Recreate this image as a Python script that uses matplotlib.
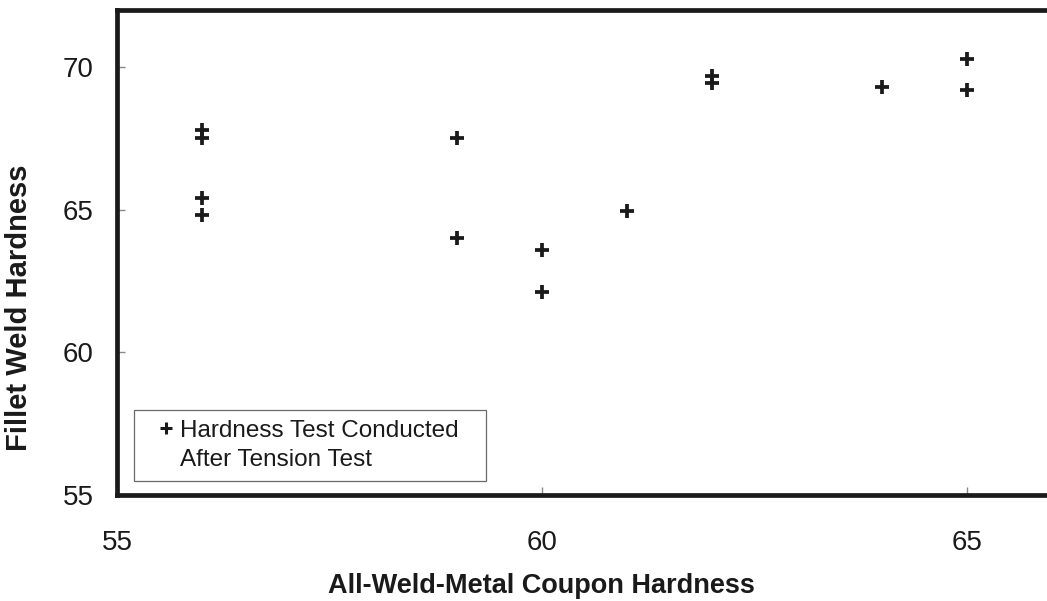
import matplotlib
matplotlib.use("Agg")
import matplotlib.pyplot as plt
from matplotlib.lines import Line2D

plt.rcParams['font.family'] = ['Liberation Sans', 'DejaVu Sans']

# All-weld-metal coupon hardness vs. fillet weld hardness
coupon_hardness = [56, 56, 56, 56, 59, 59, 60, 60, 61, 62, 62, 64, 65, 65]
fillet_hardness = [67.8, 67.5, 65.4, 64.8, 67.5, 64.0, 63.6, 62.1, 64.95,
                   69.7, 69.45, 69.3, 70.3, 69.2]

x_ticks = [55, 60, 65]
y_ticks = [55, 60, 65, 70]

ink = '#1a1a1a'

fig = plt.figure(figsize=(10.47, 6.01), dpi=100)
ax = fig.add_axes([117 / 1047, 1 - 495 / 601, 1 - 117 / 1047, 485 / 601])

ax.plot(coupon_hardness, fillet_hardness, linestyle='none', marker='+',
        markersize=10.5, markeredgewidth=2.7, color=ink, clip_on=False)

ax.set_xlim(55, 55 + 930 / 85)
ax.set_ylim(55, 72)
ax.set_xticks(x_ticks)
ax.set_yticks(y_ticks)
ax.tick_params(direction='in', length=6, width=1, color='#888888',
               labelsize=20, labelcolor=ink)
ax.tick_params(axis='x', pad=25)
ax.tick_params(axis='y', pad=17)

for side in ['left', 'bottom', 'top']:
    ax.spines[side].set_linewidth(3.4)
    ax.spines[side].set_color(ink)
ax.spines['right'].set_visible(False)

ax.set_xlabel('All-Weld-Metal Coupon Hardness', fontsize=19.5,
              fontweight='bold', color=ink)
ax.set_ylabel('Fillet Weld Hardness', fontsize=21, fontweight='bold', color=ink)
ax.xaxis.set_label_coords(0.456, -0.161)
ax.yaxis.set_label_coords(-0.09, 0.387)

handles = [
    Line2D([], [], linestyle='none', marker='+', markersize=8,
           markeredgewidth=2.2, color=ink),
    Line2D([], [], linestyle='none', marker=None),
]
labels = ['Hardness Test Conducted', 'After Tension Test']
leg = ax.legend(handles, labels, loc='lower left',
                bbox_to_anchor=(17 / 930, 14 / 485, 352 / 930, 74 / 485),
                mode='expand', borderaxespad=0, fontsize=17.5, fancybox=False,
                handlelength=1.78, handletextpad=-0.3, labelspacing=0.28,
                borderpad=0.42, frameon=True)
frame = leg.get_frame()
frame.set_edgecolor('#444444')
frame.set_linewidth(0.9)
for t in leg.get_texts():
    t.set_color(ink)

fig.savefig('out.png', dpi=100)
